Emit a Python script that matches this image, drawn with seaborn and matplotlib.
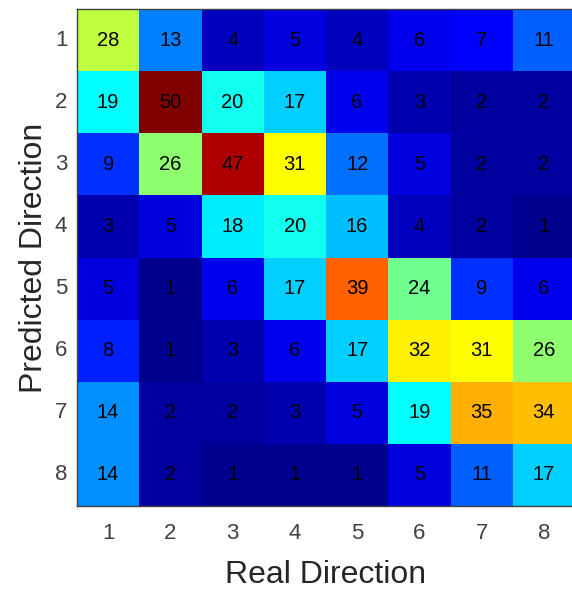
import numpy as np
import pandas as pd
import matplotlib
matplotlib.use("Agg")
import matplotlib.pyplot as plt
from matplotlib.colors import ListedColormap
import seaborn as sns

real_dirs = ["1", "2", "3", "4", "5", "6", "7", "8"]
pred_dirs = ["1", "2", "3", "4", "5", "6", "7", "8"]
row1 = [28, 13, 4, 5, 4, 6, 7, 11]
row2 = [19, 50, 20, 17, 6, 3, 2, 2]
row3 = [9, 26, 47, 31, 12, 5, 2, 2]
row4 = [3, 5, 18, 20, 16, 4, 2, 1]
row5 = [5, 1, 6, 17, 39, 24, 9, 6]
row6 = [8, 1, 3, 6, 17, 32, 31, 26]
row7 = [14, 2, 2, 3, 5, 19, 35, 34]
row8 = [14, 2, 1, 1, 1, 5, 11, 17]

df = pd.DataFrame([row1, row2, row3, row4, row5, row6, row7, row8],
                  index=pred_dirs, columns=real_dirs)


def matlab_jet(m=64):
    n = int(np.ceil(m / 4))
    u = np.concatenate([np.arange(1, n + 1) / n, np.ones(n - 1), np.arange(n, 0, -1) / n])
    g = int(np.ceil(n / 2)) - (1 if m % 4 == 1 else 0) + np.arange(1, len(u) + 1)
    r = g + n
    b = g - n
    J = np.zeros((m, 3))
    J[r[r <= m] - 1, 0] = u[r <= m]
    J[g[g <= m] - 1, 1] = u[g <= m]
    J[b[b >= 1] - 1, 2] = u[b >= 1]
    return ListedColormap(J)


cmap = matlab_jet(64)

sns.set_style("white")
plt.rcParams['font.family'] = ['Liberation Sans', 'DejaVu Sans']

fig = plt.figure(figsize=(5.72, 5.90), dpi=100)
ax = fig.add_axes([77/572, 1-506/590, 498/572, 497/590])
sns.heatmap(df, ax=ax, cmap=cmap, vmin=df.values.min(), vmax=df.values.max(),
            annot=True, fmt="d", cbar=False,
            annot_kws={"fontsize": 14.5, "color": "black"})
for t in ax.texts:
    t.set_color("black")

for s in ax.spines.values():
    s.set_visible(True)
    s.set_color("#404040")
    s.set_linewidth(1.0)

ax.tick_params(axis='both', direction='in', length=5, width=0.8, color="#404040",
               labelsize=16, labelcolor="#404040", top=True, right=True,
               bottom=True, left=True, labeltop=False, labelright=False)
ax.tick_params(axis='x', pad=12)
ax.tick_params(axis='y', pad=7)
ax.set_yticklabels(pred_dirs, rotation=0)
ax.set_xticklabels(real_dirs, rotation=0)
ax.set_xlabel("Real Direction", fontsize=23, color="#262626", labelpad=12)
ax.set_ylabel("Predicted Direction", fontsize=23, color="#262626", labelpad=4)

fig.savefig("out.png", dpi=100)
